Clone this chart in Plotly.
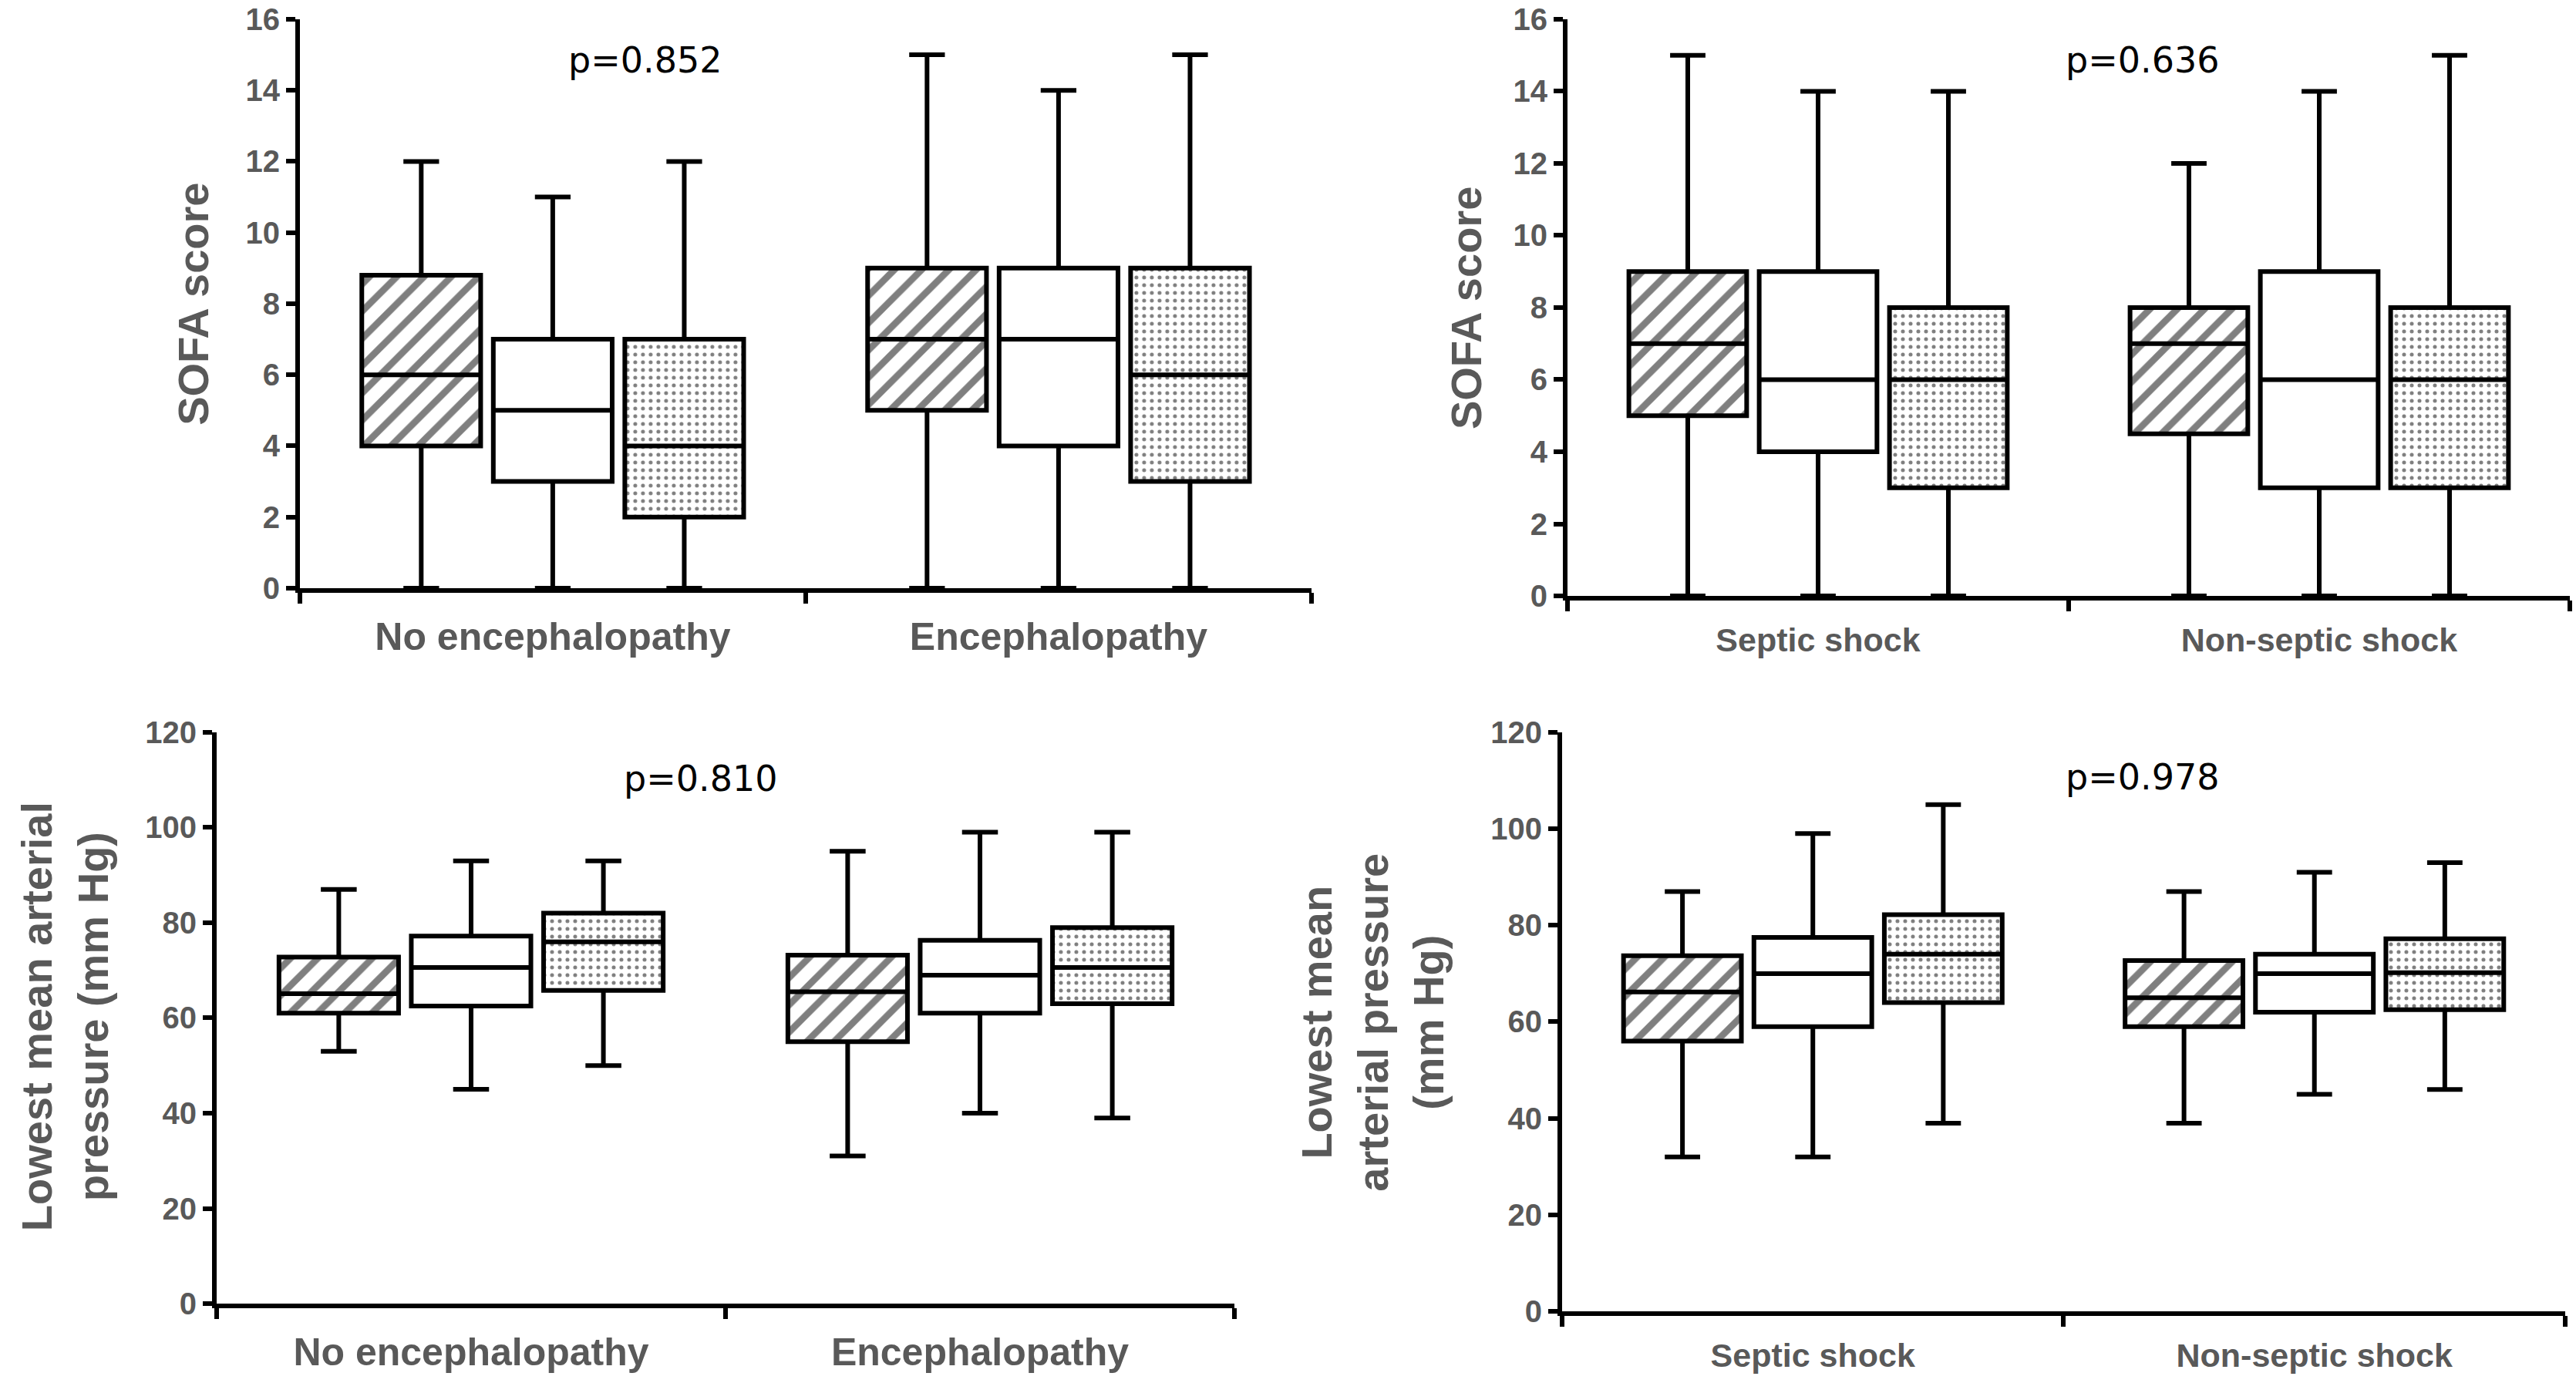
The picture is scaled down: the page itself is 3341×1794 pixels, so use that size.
import plotly.graph_objects as go

# ---------------- data ----------------
enc_groups = ["No encephalopathy", "Encephalopathy"]
shock_groups = ["Septic shock", "Non-septic shock"]

# SOFA score by encephalopathy (three series: hatched, open, dotted)
sofa_enc_low = [[0, 0], [0, 0], [0, 0]]
sofa_enc_q1 = [[4, 5], [3, 4], [2, 3]]
sofa_enc_med = [[6, 7], [5, 7], [4, 6]]
sofa_enc_q3 = [[8.8, 9], [7, 9], [7, 9]]
sofa_enc_high = [[12, 15], [11, 14], [12, 15]]

# SOFA score by shock type
sofa_shock_low = [[0, 0], [0, 0], [0, 0]]
sofa_shock_q1 = [[5, 4.5], [4, 3], [3, 3]]
sofa_shock_med = [[7, 7], [6, 6], [6, 6]]
sofa_shock_q3 = [[9, 8], [9, 9], [8, 8]]
sofa_shock_high = [[15, 12], [14, 14], [14, 15]]

# Lowest MAP by encephalopathy
map_enc_low = [[53, 31], [45, 40], [50, 39]]
map_enc_q1 = [[61, 55], [62.5, 61], [65.8, 63]]
map_enc_med = [[65.1, 65.5], [70.6, 69], [76, 70.6]]
map_enc_q3 = [[72.8, 73.2], [77.2, 76.3], [82, 79]]
map_enc_high = [[87, 95], [93, 99], [93, 99]]

# Lowest MAP by shock type
map_shock_low = [[32, 39], [32, 45], [39, 46]]
map_shock_q1 = [[56, 59], [59, 62], [64, 62.5]]
map_shock_med = [[66.2, 65], [70, 70], [74, 70.2]]
map_shock_q3 = [[73.7, 72.7], [77.5, 74], [82.2, 77.2]]
map_shock_high = [[87, 87], [99, 91], [105, 93]]

p_values = ["p=0.852", "p=0.636", "p=0.810", "p=0.978"]

# ---------------- styling ----------------
GREY = "#595959"
FONT = "Liberation Sans"
OFFSETS = [-0.26, 0.0, 0.26]
BOXW = 0.235
patterns = [
    dict(shape="/", size=25, solidity=0.35, fgcolor="black", bgcolor="white"),
    None,
    dict(shape=".", size=10, solidity=0.2, fgcolor="black", bgcolor="white"),
]

fig = go.Figure()

panels = [
    dict(ax="", groups=enc_groups, stats=(sofa_enc_low, sofa_enc_q1, sofa_enc_med, sofa_enc_q3, sofa_enc_high),
         xdom=[0.1164, 0.5091], ydom=[0.5747, 0.9861], yr=[0, 16], dt=2, lblsize=50),
    dict(ax="2", groups=shock_groups, stats=(sofa_shock_low, sofa_shock_q1, sofa_shock_med, sofa_shock_q3, sofa_shock_high),
         xdom=[0.6085, 0.9976], ydom=[0.5691, 0.9861], yr=[0, 16], dt=2, lblsize=43),
    dict(ax="3", groups=enc_groups, stats=(map_enc_low, map_enc_q1, map_enc_med, map_enc_q3, map_enc_high),
         xdom=[0.0841, 0.4792], ydom=[0.0574, 0.4705], yr=[0, 120], dt=20, lblsize=50),
    dict(ax="4", groups=shock_groups, stats=(map_shock_low, map_shock_q1, map_shock_med, map_shock_q3, map_shock_high),
         xdom=[0.6064, 0.9958], ydom=[0.0518, 0.4705], yr=[0, 120], dt=20, lblsize=43),
]

for p in panels:
    low, q1, med, q3, high = p["stats"]
    xa, ya = "x" + p["ax"], "y" + p["ax"]
    for s in range(3):
        xs = [g + 0.5 + OFFSETS[s] for g in range(len(p["groups"]))]
        if patterns[s] is not None:
            fig.add_trace(go.Bar(
                x=xs, y=[b - a for a, b in zip(q1[s], q3[s])], base=q1[s],
                width=BOXW, xaxis=xa, yaxis=ya, showlegend=False, hoverinfo="skip",
                marker=dict(color="white", line=dict(width=0), pattern=patterns[s]),
            ))
        fig.add_trace(go.Box(
            x=xs, q1=q1[s], median=med[s], q3=q3[s], lowerfence=low[s], upperfence=high[s],
            width=BOXW, whiskerwidth=0.3, boxpoints=False,
            fillcolor="rgba(0,0,0,0)", line=dict(color="black", width=6),
            xaxis=xa, yaxis=ya, showlegend=False,
        ))
    fig.layout["xaxis" + p["ax"]] = dict(
        domain=p["xdom"], anchor=ya, range=[0, 2], showgrid=False, zeroline=False,
        showline=True, linewidth=6, linecolor="black", automargin=False,
        tickvals=[0.5, 1.5], ticktext=p["groups"],
        ticks="", ticklabelstandoff=14,
        tickfont=dict(family=FONT, size=p["lblsize"], color=GREY, weight="bold"),
        minor=dict(tick0=0, dtick=1, ticks="outside", ticklen=14, tickwidth=6, tickcolor="black"),
        fixedrange=True,
    )
    fig.layout["yaxis" + p["ax"]] = dict(
        domain=p["ydom"], anchor=xa, range=p["yr"], dtick=p["dt"], tick0=0,
        showgrid=False, zeroline=False, showline=True, linewidth=6, linecolor="black",
        ticks="outside", ticklen=12, tickwidth=6, tickcolor="black", automargin=False,
        tickfont=dict(family=FONT, size=40, color=GREY, weight="bold"),
        fixedrange=True,
    )

# y-axis titles
ytitles = [
    ("SOFA score", 0.0751, 0.7804),
    ("SOFA score", 0.5690, 0.7770),
    ("Lowest mean arterial<br>pressure (mm Hg)", 0.0252, 0.2648),
    ("Lowest mean<br>arterial pressure<br>(mm Hg)", 0.5330, 0.2609),
]
for text, x, y in ytitles:
    fig.add_annotation(text=text, x=x, y=y, xref="paper", yref="paper", showarrow=False,
                       textangle=-90, xanchor="center", yanchor="middle",
                       font=dict(family=FONT, size=56, color=GREY, weight="bold"))

p_pos = [(0.2505, 0.9565), (0.8315, 0.9565), (0.2718, 0.4370), (0.8315, 0.4381)]
for text, (x, y) in zip(p_values, p_pos):
    fig.add_annotation(text=text, x=x, y=y, xref="paper", yref="paper", showarrow=False,
                       xanchor="center", yanchor="middle",
                       font=dict(family="DejaVu Sans", size=46, color="black"))

fig.update_layout(
    width=3341, height=1794, margin=dict(l=0, r=0, t=0, b=0, autoexpand=False),
    paper_bgcolor="white", plot_bgcolor="white", barmode="overlay",
    boxmode="overlay", font=dict(family=FONT),
)

fig.write_html("out.html")
